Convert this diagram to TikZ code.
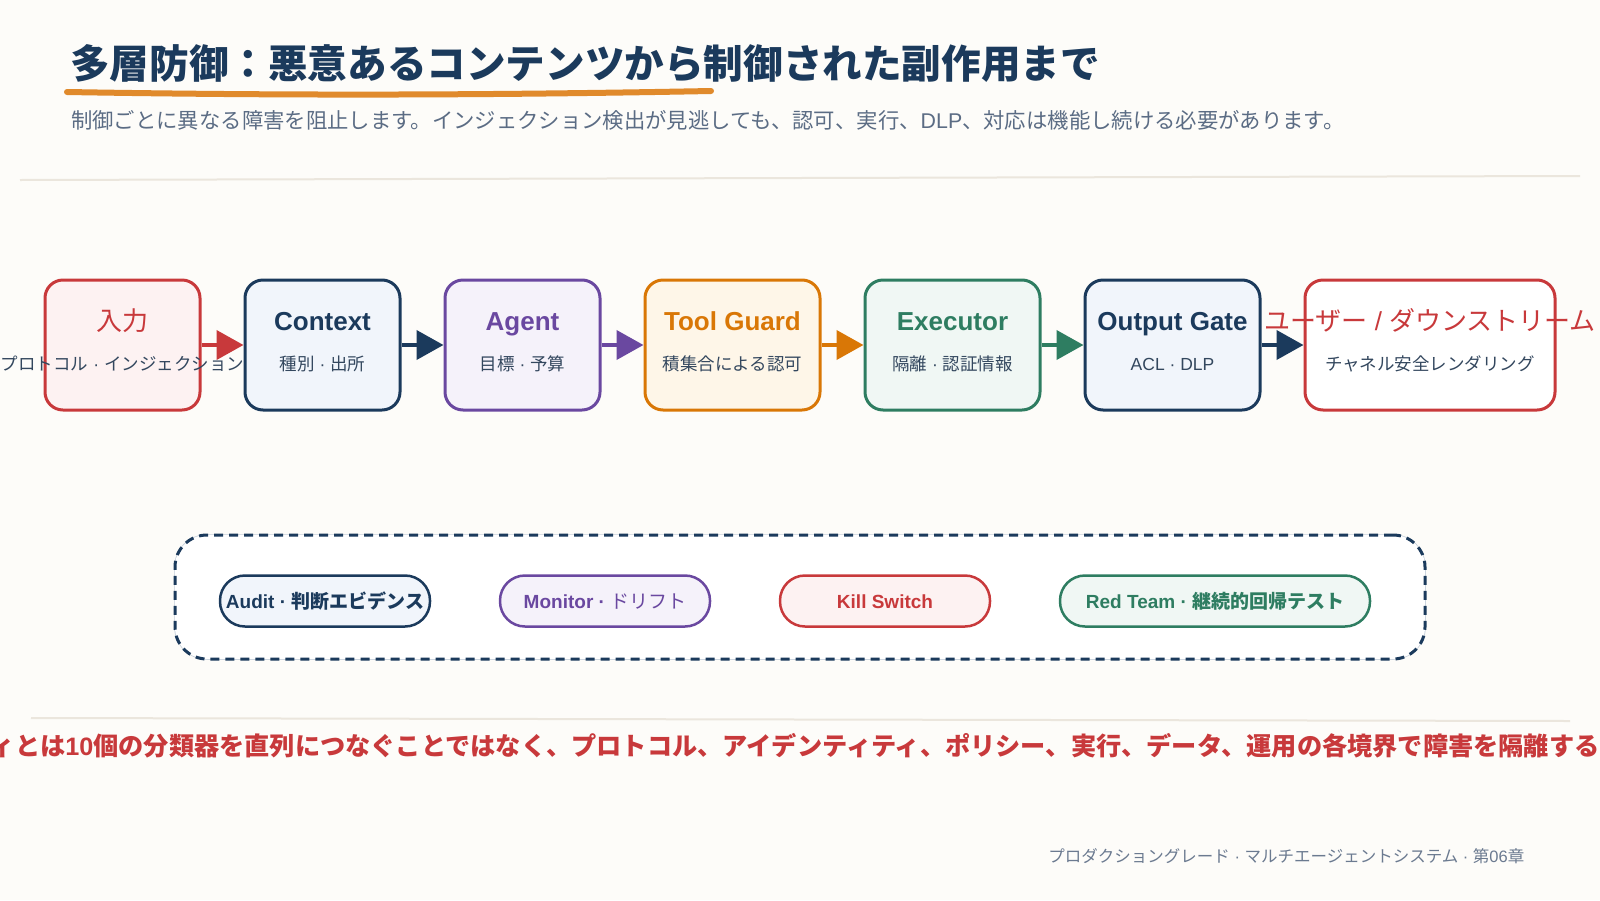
\documentclass[tikz,border=0pt]{standalone}
\usepackage{fontspec}
\setmainfont{Liberation Sans}
\newfontfamily\jp{Noto Sans CJK JP}
\usetikzlibrary{arrows.meta}
\definecolor{bg}{HTML}{FDFCF9}
\definecolor{cnavy}{HTML}{1B3A5C}
\definecolor{cred}{HTML}{C8393B}
\definecolor{cpurple}{HTML}{6A48A0}
\definecolor{corange}{HTML}{D97706}
\definecolor{cgreen}{HTML}{2E7D61}
\definecolor{fred}{HTML}{FDF2F2}
\definecolor{fnavy}{HTML}{F1F5FB}
\definecolor{fpurple}{HTML}{F5F2FA}
\definecolor{forange}{HTML}{FEF6E8}
\definecolor{fgreen}{HTML}{F0F7F4}
\definecolor{csub}{HTML}{5B6C84}
\definecolor{cbody}{HTML}{33475E}
\definecolor{cfoot}{HTML}{6B7A90}
\definecolor{cline}{HTML}{EBE6DD}
\definecolor{cunder}{HTML}{E08A2C}
\definecolor{cdashbg}{HTML}{C5CFDB}
\tikzset{
  stagebox/.style 2 args={draw=#1, fill=#2, line width=3pt, rounded corners=18pt, minimum height=130pt, inner sep=0pt},
  pillbox/.style 2 args={draw=#1, fill=#2, line width=2.5pt, rounded corners=25pt, minimum height=51pt, minimum width=210pt, inner sep=0pt},
  ttl/.style={anchor=base, inner sep=0pt, font=\fontsize{26}{30}\selectfont\bfseries},
  sub/.style={anchor=base, inner sep=0pt, text=cbody, font=\fontsize{17.5}{21}\selectfont},
  pilltxt/.style={anchor=base, inner sep=0pt, font=\fontsize{19}{23}\selectfont\bfseries},
  flow/.style={draw=#1, line width=4pt, -{Triangle[length=27pt,width=29pt]}},
  sepline/.style={draw=cline, line width=2pt},
}
\begin{document}
\begin{tikzpicture}[x=1pt,y=-1pt]
\useasboundingbox (0,0) rectangle (1600,900);
\begin{scope}
\clip (0,0) rectangle (1600,900);
\fill[bg] (0,0) rectangle (1600,900);

% header
\node[anchor=base west, inner sep=0pt, text=cnavy, font=\fontsize{39.6}{48}\selectfont\bfseries\jp] (title) at (70,78) {多層防御：悪意あるコンテンツから制御された副作用まで};
\draw[cunder, line width=6pt, line cap=round] (67,92) .. controls (300,96) and (500,95) .. (711,91);
\node[anchor=base west, inner sep=0pt, text=csub, font=\fontsize{21.35}{25}\selectfont] (subtitle) at (71,128) {{\jp 制御ごとに異なる障害を阻止します。インジェクション検出が見逃しても、認可、実行、}DLP{\jp 、対応は機能し続ける必要があります。}};
\draw[sepline] (20,180) -- (1580,176);

% stages
\node[stagebox={cred}{fred}, minimum width=155pt] (in) at (122.5,345) {};
\node[stagebox={cnavy}{fnavy}, minimum width=155pt] (ctx) at (322.5,345) {};
\node[stagebox={cpurple}{fpurple}, minimum width=155pt] (agt) at (522.5,345) {};
\node[stagebox={corange}{forange}, minimum width=175pt] (tg) at (732.5,345) {};
\node[stagebox={cgreen}{fgreen}, minimum width=175pt] (ex) at (952.5,345) {};
\node[stagebox={cnavy}{fnavy}, minimum width=175pt] (og) at (1172.5,345) {};
\node[stagebox={cred}{white}, minimum width=250pt] (usr) at (1430,345) {};

\node[ttl, text=cred, font=\fontsize{26}{30}\selectfont\jp] (inT) at (122.5,330) {入力};
\node[ttl, text=cnavy] (ctxT) at (322.5,330) {Context};
\node[ttl, text=cpurple] (agtT) at (522.5,330) {Agent};
\node[ttl, text=corange] (tgT) at (732.5,330) {Tool Guard};
\node[ttl, text=cgreen] (exT) at (952.5,330) {Executor};
\node[ttl, text=cnavy] (ogT) at (1172.5,330) {Output Gate};
\node[ttl, text=cred, font=\fontsize{26}{30}\selectfont] (usrT) at (1430,330) {{\jp ユーザー} / {\jp ダウンストリーム}};

\node[sub] (inS) at (122.5,370) {{\jp プロトコル} · {\jp インジェクション}};
\node[sub] (ctxS) at (322.5,370) {{\jp 種別} · {\jp 出所}};
\node[sub] (agtS) at (522.5,370) {{\jp 目標} · {\jp 予算}};
\node[sub] (tgS) at (732.5,370) {\jp 積集合による認可};
\node[sub] (exS) at (952.5,370) {{\jp 隔離} · {\jp 認証情報}};
\node[sub] (ogS) at (1172.5,370) {ACL · DLP};
\node[sub] (usrS) at (1430,370) {\jp チャネル安全レンダリング};

\draw[flow=cred] (in.east) -- (ctx.west);
\draw[flow=cnavy] (ctx.east) -- (agt.west);
\draw[flow=cpurple] (agt.east) -- (tg.west);
\draw[flow=corange] (tg.east) -- (ex.west);
\draw[flow=cgreen] (ex.east) -- (og.west);
\draw[flow=cnavy] (og.east) -- (usr.west);

% cross-cutting controls
\node[draw=cnavy, line width=3pt, dash pattern=on 9pt off 6pt, fill=white, rounded corners=32pt,
      minimum width=1250pt, minimum height=124pt, inner sep=0pt,
      preaction={draw=cdashbg, line width=1.5pt, solid}] (grp) at (800,597) {};
\node[pillbox={cnavy}{fnavy}] (aud) at (325,601) {};
\node[pillbox={cpurple}{fpurple}] (mon) at (605,601) {};
\node[pillbox={cred}{fred}] (kill) at (885,601) {};
\node[pillbox={cgreen}{fgreen}, minimum width=310pt] (red) at (1215,601) {};
\node[pilltxt, text=cnavy] (audT) at (325,608) {Audit · {\jp 判断エビデンス}};
\node[pilltxt, text=cpurple] (monT) at (605,608) {Monitor · {\jp\mdseries ドリフト}};
\node[pilltxt, text=cred] (killT) at (885,608) {Kill Switch};
\node[pilltxt, text=cgreen] (redT) at (1215,608) {Red Team · {\jp 継続的回帰テスト}};

% bottom
\draw[sepline] (31,718) -- (1570,721);
\node[anchor=base west, inner sep=0pt, text=cred, font=\fontsize{25.2}{30}\selectfont\bfseries] (thesis) at (-34,755) {{\jp ティとは}10{\jp 個の分類器を直列につなぐことではなく、プロトコル、アイデンティティ、ポリシー、実行、データ、運用の各境界で障害を隔離するこ}};
\node[anchor=base east, inner sep=0pt, text=cfoot, font=\fontsize{16.5}{20}\selectfont] (footer) at (1524.5,862) {{\jp プロダクショングレード} · {\jp マルチエージェントシステム} · {\jp 第}06{\jp 章}};
\end{scope}
\end{tikzpicture}
\end{document}
